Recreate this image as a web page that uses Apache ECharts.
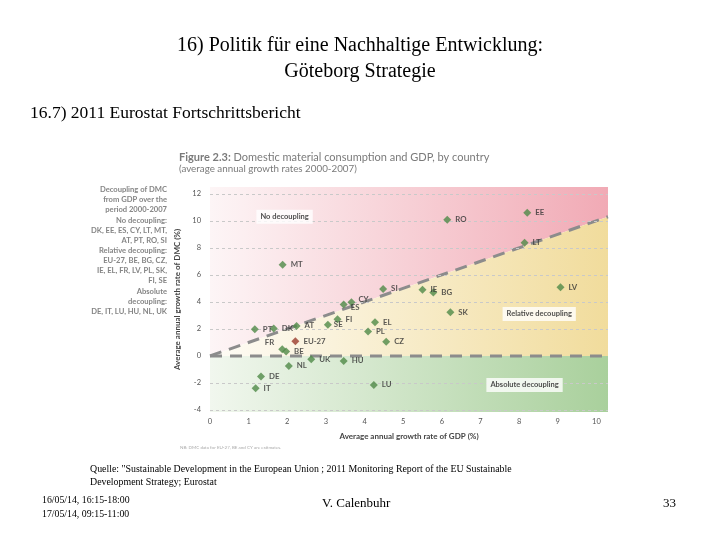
<!DOCTYPE html>
<html><head><meta charset="utf-8">
<script src="https://cdn.jsdelivr.net/npm/echarts@6/dist/echarts.min.js"></script>
<style>html,body{margin:0;padding:0;background:#fff}#c{width:720px;height:540px}</style>
</head><body><div id="c"></div>
<script>
// ---- data ----
const countries = ['EE','RO','LT','MT','SI','IE','BG','LV','SK','ES','CY','PT','DK','AT','SE','FI','EL','PL','CZ','FR','BE','UK','NL','HU','DE','IT','LU'];
const gdpGrowth = [8.21,6.14,8.14,1.88,4.48,5.5,5.78,9.07,6.22,3.46,3.66,1.16,1.65,2.24,3.05,3.3,4.27,4.09,4.56,1.87,1.97,2.62,2.04,3.46,1.32,1.18,4.24];
const dmcGrowth = [10.6,10.07,8.37,6.74,4.96,4.9,4.7,5.09,3.24,3.8,3.97,1.97,2.02,2.22,2.3,2.72,2.5,1.8,1.04,0.5,0.32,-0.25,-0.74,-0.37,-1.53,-2.4,-2.15];
const euName = 'EU-27';
const euGdp = 2.21;
const euDmc = 1.09;
const xTicks = [0,1,2,3,4,5,6,7,8,9,10];
const yTicks = [-4,-2,0,2,4,6,8,10,12];
const yGridValues = [-4,-2,2,4,6,8,10,12];
const regionLabels = ['No decoupling','Relative decoupling','Absolute decoupling'];
const regionLabelX = [1.93, 8.52, 8.14];
const regionLabelY = [10.3, 3.11, -2.15];
const xMin = 0, xMax = 10.3, yMin = -4.15, yMax = 12.5;

// label placement styling (not data)
const labelStyle = {
  FR: {position:'left', offset:[0,-7]},
  ES: {position:'right', offset:[-1,3]},
  CY: {position:'right', offset:[-1,-3]},
  SE: {position:'right', offset:[-2,0]}
};

const chart = echarts.init(document.getElementById('c'));
const serifFont = '"Liberation Serif", "Times New Roman", serif';
const sansFont = 'Lato, "Open Sans", sans-serif';

function grad(c0, c1) {
  return {type:'linear', x:0, y:0, x2:1, y2:0, colorStops:[{offset:0,color:c0},{offset:1,color:c1}]};
}
const regions = [
  {pts:[[xMin,0],[xMin,yMax],[xMax,yMax],[xMax,xMax]], fill:grad('#fdf5f6','#f1aab5')},
  {pts:[[xMin,0],[xMax,xMax],[xMax,0]], fill:grad('#fefcf7','#f1dc9c')},
  {pts:[[xMin,0],[xMax,0],[xMax,yMin],[xMin,yMin]], fill:grad('#f1f7ee','#a9d09c')}
];

const legendLines = [
  'Decoupling of DMC','from GDP over the','period 2000-2007',
  'No decoupling:','DK, EE, ES, CY, LT, MT,','AT, PT, RO, SI',
  'Relative decoupling:','EU-27, BE, BG, CZ,','IE, EL, FR, LV, PL, SK,','FI, SE',
  'Absolute','decoupling:','DE, IT, LU, HU, NL, UK'
];
const legendY = [190,200,210,221,231,241,251,261,271,281,292,302,312];

const graphics = [
  {type:'text', left:'center', top:36, style:{text:'16) Politik für eine Nachhaltige Entwicklung:', font:'20px '+serifFont, fill:'#000', textAlign:'center'}},
  {type:'text', left:'center', top:62, style:{text:'Göteborg Strategie', font:'20px '+serifFont, fill:'#000'}},
  {type:'text', left:30, top:104, style:{text:'16.7) 2011 Eurostat Fortschrittsbericht', font:'17.5px '+serifFont, fill:'#000'}},
  {type:'text', left:179, top:152, style:{text:'{b|Figure 2.3:} Domestic material consumption and GDP, by country', font:'11px '+sansFont, fill:'#7a7a7a', rich:{b:{fontWeight:'bold', fontSize:11, fontFamily:'Lato', fill:'#7a7a7a'}}}},
  {type:'text', left:179, top:164, style:{text:'(average annual growth rates 2000-2007)', font:'9.8px '+sansFont, fill:'#7a7a7a'}},
  {type:'text', left:180, top:445, style:{text:'NB: DMC data for EU-27, BE and CY are estimates.', font:'4.5px '+sansFont, fill:'#aaa'}},
  {type:'text', left:90, top:464, style:{text:'Quelle: "Sustainable Development in the European Union ; 2011 Monitoring Report of the EU Sustainable', font:'9.9px '+serifFont, fill:'#000'}},
  {type:'text', left:90, top:477, style:{text:'Development Strategy; Eurostat', font:'9.9px '+serifFont, fill:'#000'}},
  {type:'text', left:42, top:495, style:{text:'16/05/14, 16:15-18:00', font:'9.8px '+serifFont, fill:'#000'}},
  {type:'text', left:42, top:509, style:{text:'17/05/14, 09:15-11:00', font:'9.8px '+serifFont, fill:'#000'}},
  {type:'text', left:322, top:497, style:{text:'V. Calenbuhr', font:'13px '+serifFont, fill:'#000'}},
  {type:'text', left:663, top:497, style:{text:'33', font:'13px '+serifFont, fill:'#000'}}
];
legendLines.forEach((t,i)=>{
  graphics.push({type:'text', x:167, y:legendY[i], style:{text:t, font:'bold 7.6px '+sansFont, fill:'#858585', textAlign:'right', textVerticalAlign:'middle'}});
});

const scatterData = countries.map((c,i)=>{
  const item = {name:c, value:[gdpGrowth[i], dmcGrowth[i]]};
  if (labelStyle[c]) item.label = labelStyle[c];
  return item;
});

const option = {
  animation:false,
  backgroundColor:'#fff',
  graphic: graphics,
  grid:{left:210, right:112, top:187, bottom:128, containLabel:false},
  xAxis:{type:'value', min:xMin, max:xMax,
    axisLine:{show:false}, axisTick:{show:false}, splitLine:{show:false},
    axisLabel:{customValues:xTicks, fontSize:7.5, color:'#555', fontFamily:'Lato', margin:6},
    name:'Average annual growth rate of GDP (%)', nameLocation:'middle', nameGap:20,
    nameTextStyle:{fontSize:8, fontWeight:'bold', color:'#444', fontFamily:'Lato'}},
  yAxis:{type:'value', min:yMin, max:yMax,
    axisLine:{show:false}, axisTick:{show:false}, splitLine:{show:false},
    axisLabel:{customValues:yTicks, fontSize:7.5, color:'#555', fontFamily:'Lato', margin:9},
    name:'Average annual growth rate of DMC (%)', nameLocation:'middle', nameGap:23,
    nameTextStyle:{fontSize:8, fontWeight:'bold', color:'#444', fontFamily:'Lato'}},
  series:[
    {type:'custom', silent:true, z:0, data:regions.map((r,i)=>[i]),
      renderItem:function(params, api){
        const r = regions[params.dataIndex];
        return {type:'polygon', shape:{points:r.pts.map(p=>api.coord(p))}, style:{fill:r.fill}};
      },
      markLine:{silent:true, symbol:'none', label:{show:false},
        lineStyle:{color:'#c9c9c9', type:[3,3], width:1},
        data:yGridValues.map(v=>({yAxis:v}))}
    },
    {type:'line', silent:true, z:3, symbol:'none', data:[[xMin,0],[xMax,0]],
      lineStyle:{color:'#8c8c8c', width:3, type:[12,8]}},
    {type:'line', silent:true, z:3, symbol:'none', data:[[xMin,xMin],[xMax,xMax]],
      lineStyle:{color:'#8c8c8c', width:3, type:[12,8]}},
    {type:'scatter', z:5, symbol:'diamond', symbolSize:8,
      itemStyle:{color:'#4f8a47'},
      label:{show:true, position:'right', distance:4, formatter:'{b}', fontSize:7.8, fontWeight:'bold', color:'#333', fontFamily:'Lato'},
      data:scatterData},
    {type:'scatter', z:5, symbol:'diamond', symbolSize:8,
      itemStyle:{color:'#9a3b2c'},
      label:{show:true, position:'right', distance:4, formatter:'{b}', fontSize:7.8, fontWeight:'bold', color:'#333', fontFamily:'Lato'},
      data:[{name:euName, value:[euGdp, euDmc]}]},
    {type:'scatter', z:6, symbolSize:0, silent:true,
      label:{show:true, position:'inside', formatter:'{b}', fontSize:7.5, fontWeight:'bold', color:'#222', fontFamily:'Lato',
        backgroundColor:'#fff', padding:[3,4]},
      data:regionLabels.map((t,i)=>({name:t, value:[regionLabelX[i], regionLabelY[i]]}))}
  ]
};
chart.setOption(option);
</script></body></html>
